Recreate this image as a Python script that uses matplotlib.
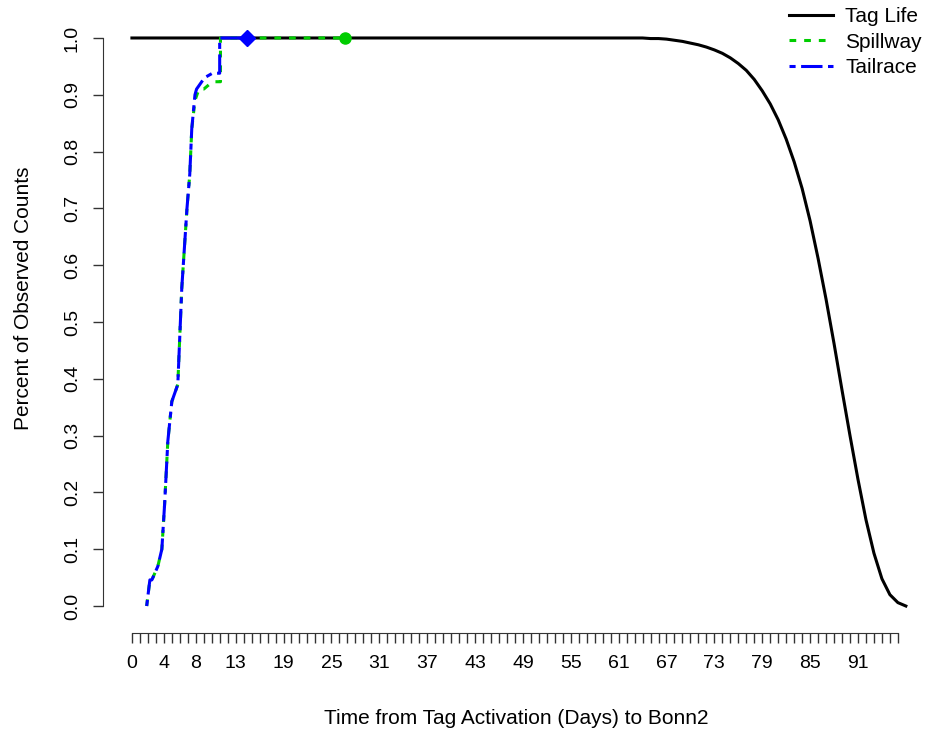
import matplotlib.pyplot as plt

plt.rcParams['font.family'] = ['Liberation Sans', 'DejaVu Sans']

# tag life curve (fraction of tags still transmitting)
life_days = [0, 60, 64, 65, 66, 67, 68, 69, 70, 71, 72, 73, 74, 75, 76, 77, 78, 79, 80,
             81, 82, 83, 84, 85, 86, 87, 88, 89, 90, 91, 92, 93, 94, 95, 96, 97]
life_vals = [1.0, 1.0, 1.0, 0.999, 0.999, 0.998, 0.996, 0.994, 0.991, 0.988, 0.984, 0.979,
             0.973, 0.965, 0.955, 0.943, 0.927, 0.907, 0.884, 0.856, 0.822, 0.782, 0.735,
             0.678, 0.612, 0.540, 0.462, 0.380, 0.300, 0.223, 0.152, 0.093, 0.048, 0.020,
             0.006, 0.0]

# cumulative observed counts at Bonn2
spill_days = [1.85, 2.25, 2.5, 3.25, 3.75, 4.1, 4.5, 5.0, 5.75, 6.25, 6.9, 7.25, 7.5,
              7.9, 8.4, 9.0, 10.1, 11.1, 11.1, 26.75]
spill_vals = [0.0, 0.046, 0.046, 0.07, 0.10, 0.18, 0.29, 0.36, 0.39, 0.56, 0.70, 0.76,
              0.84, 0.89, 0.91, 0.91, 0.923, 0.923, 1.0, 1.0]

tail_days = [1.85, 2.25, 2.5, 3.25, 3.75, 4.1, 4.5, 5.0, 5.75, 6.25, 6.9, 7.25, 7.5,
             7.9, 8.1, 9.1, 10.1, 11.0, 11.0, 14.4]
tail_vals = [0.0, 0.046, 0.046, 0.07, 0.10, 0.18, 0.29, 0.36, 0.39, 0.56, 0.70, 0.76,
             0.84, 0.90, 0.91, 0.93, 0.938, 0.938, 1.0, 1.0]

x_ticks = list(range(0, 97))
x_labelled = [0, 4, 8, 13, 19, 25, 31, 37, 43, 49, 55, 61, 67, 73, 79, 85, 91]
y_ticks = [0.0, 0.1, 0.2, 0.3, 0.4, 0.5, 0.6, 0.7, 0.8, 0.9, 1.0]

green = '#00cd00'
blue = '#0000ff'

fig = plt.figure(figsize=(9.25, 7.36), dpi=100)
ax = fig.add_axes([103 / 925, 1 - 633 / 736, 822 / 925, 622 / 736])

ax.plot(life_days, life_vals, color='black', lw=2.2, label='Tag Life')
ax.plot(spill_days, spill_vals, color=green, lw=2.2, linestyle=(0, (2.2, 2.6)),
        label='Spillway')
ax.plot(tail_days, tail_vals, color=blue, lw=2.2, linestyle=(0, (2.0, 1.8, 7.0, 1.8)),
        label='Tailrace')
ax.plot(spill_days[-1], spill_vals[-1], 'o', color=green, ms=8)
ax.plot(tail_days[-1], tail_vals[-1], 'D', color=blue, ms=8)

ax.set_xlim(-3.625, 99.4)
ax.set_ylim(-0.0475, 1.0475)

for side in ['top', 'right']:
    ax.spines[side].set_visible(False)
ax.spines['left'].set_bounds(0, 1)
ax.spines['bottom'].set_bounds(0, 96)
ax.spines['left'].set_color('#333333')
ax.spines['bottom'].set_color('#333333')

ax.set_xticks(x_ticks)
ax.set_xticklabels([str(t) if t in x_labelled else '' for t in x_ticks])
ax.set_yticks(y_ticks)
ax.set_yticklabels(['%.1f' % v for v in y_ticks])
ax.tick_params(axis='both', length=7, width=1, color='#333333', labelsize=14)
ax.tick_params(axis='x', pad=9)
ax.tick_params(axis='y', pad=9, labelrotation=90)
for lbl in ax.get_yticklabels():
    lbl.set_va('center')

ax.set_xlabel('Time from Tag Activation (Days) to Bonn2', fontsize=15)
ax.set_ylabel('Percent of Observed Counts', fontsize=15)
ax.xaxis.set_label_coords((516 - 103) / 822, -(709 - 633) / 622)
ax.yaxis.set_label_coords(-(103 - 33) / 822, (633 - 298) / 622)

fig.legend(loc='upper right', bbox_to_anchor=(1.008, 1.004), frameon=False, fontsize=15,
           handlelength=2.1, handletextpad=0.6, labelspacing=0.3, borderaxespad=0.1)

fig.savefig('out.png', dpi=100)
